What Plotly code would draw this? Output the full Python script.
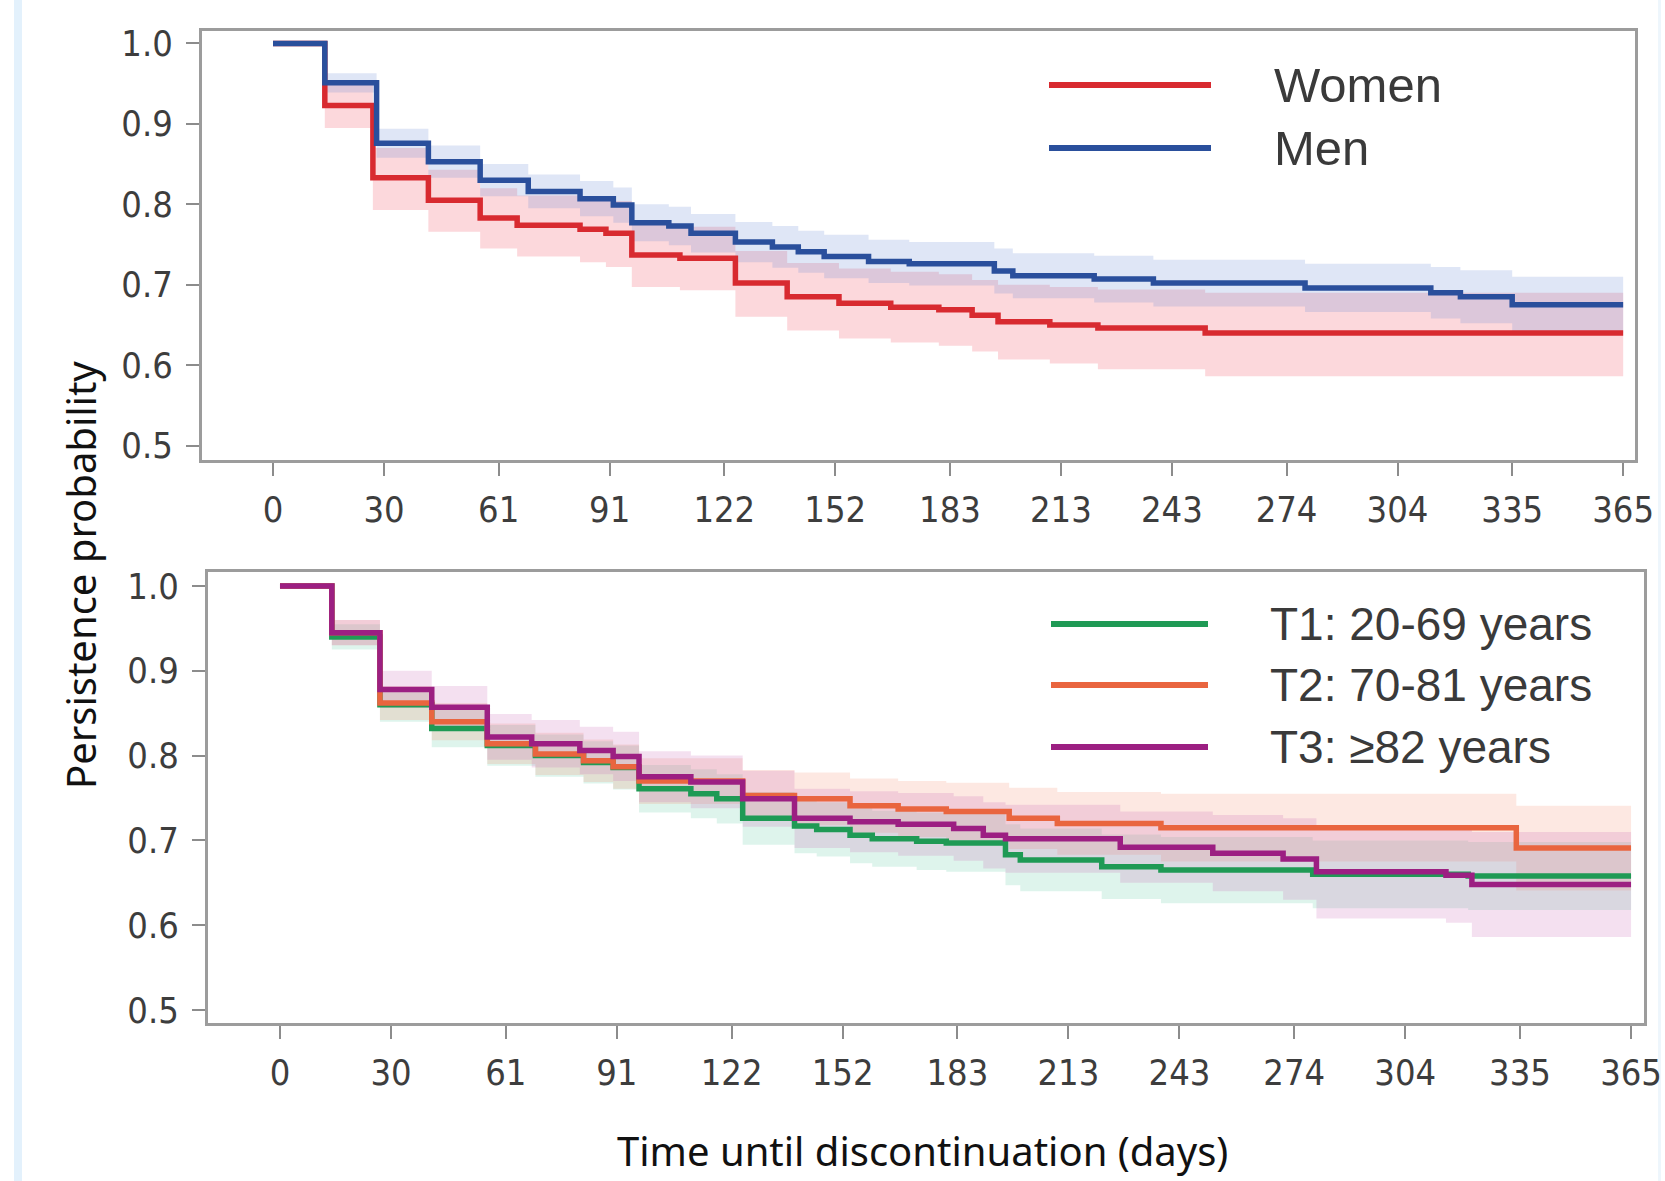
import plotly.graph_objects as go

W, H = 1665, 1181

# ---------------- data ----------------
x_ticks = [0, 30, 61, 91, 122, 152, 183, 213, 243, 274, 304, 335, 365]
y_ticks = [0.5, 0.6, 0.7, 0.8, 0.9, 1.0]
y_ticktext = ["0.5", "0.6", "0.7", "0.8", "0.9", "1.0"]

# Top panel: sex
women_t = [0, 14, 27, 42, 56, 66, 83, 90, 97, 110, 125, 139, 153, 167, 180, 189, 196, 210, 223, 252, 365]
women_s = [1.0, 0.923, 0.833, 0.805, 0.783, 0.774, 0.769, 0.764, 0.737, 0.733, 0.702, 0.685, 0.677,
           0.672, 0.669, 0.662, 0.654, 0.650, 0.646, 0.640, 0.640]
women_lo = [1.0, 0.895, 0.793, 0.766, 0.745, 0.735, 0.728, 0.722, 0.697, 0.693, 0.660, 0.643, 0.633,
            0.628, 0.624, 0.617, 0.607, 0.602, 0.595, 0.586, 0.586]
women_hi = [1.0, 0.950, 0.870, 0.843, 0.820, 0.811, 0.808, 0.804, 0.776, 0.772, 0.742, 0.727, 0.720,
            0.716, 0.713, 0.706, 0.700, 0.697, 0.694, 0.690, 0.690]

men_t = [0, 14, 28, 42, 56, 69, 83, 92, 97, 107, 113, 125, 135, 142, 149, 161, 172, 195, 200, 222,
         238, 279, 313, 321, 335, 365]
men_s = [1.0, 0.951, 0.876, 0.853, 0.830, 0.816, 0.807, 0.799, 0.777, 0.773, 0.764, 0.753, 0.747,
         0.741, 0.735, 0.729, 0.726, 0.717, 0.711, 0.707, 0.702, 0.696, 0.690, 0.685, 0.675, 0.675]
men_lo = [1.0, 0.939, 0.858, 0.833, 0.810, 0.795, 0.785, 0.777, 0.754, 0.749, 0.740, 0.728, 0.721,
          0.715, 0.708, 0.702, 0.699, 0.689, 0.683, 0.678, 0.673, 0.666, 0.658, 0.652, 0.640, 0.640]
men_hi = [1.0, 0.963, 0.894, 0.873, 0.850, 0.837, 0.829, 0.821, 0.800, 0.797, 0.788, 0.778, 0.773,
          0.767, 0.762, 0.756, 0.753, 0.745, 0.739, 0.736, 0.731, 0.726, 0.722, 0.718, 0.710, 0.710]

# Bottom panel: age tertiles
t1_t = [0, 14, 27, 41, 56, 69, 82, 90, 97, 111, 118, 125, 139, 145, 154, 160, 172, 180, 196, 200,
        222, 238, 279, 321, 365]
t1_s = [1.0, 0.940, 0.860, 0.832, 0.812, 0.800, 0.792, 0.786, 0.761, 0.755, 0.749, 0.726, 0.717,
        0.713, 0.706, 0.702, 0.699, 0.697, 0.683, 0.677, 0.669, 0.665, 0.660, 0.658, 0.658]
t1_lo = [1.0, 0.925, 0.840, 0.810, 0.788, 0.775, 0.767, 0.760, 0.733, 0.726, 0.720, 0.695, 0.685,
         0.681, 0.673, 0.669, 0.665, 0.663, 0.647, 0.640, 0.631, 0.626, 0.620, 0.618, 0.618]
t1_hi = [1.0, 0.955, 0.880, 0.854, 0.836, 0.825, 0.817, 0.812, 0.789, 0.784, 0.778, 0.757, 0.749,
         0.745, 0.739, 0.735, 0.733, 0.731, 0.719, 0.714, 0.707, 0.704, 0.700, 0.698, 0.698]

t2_t = [0, 14, 27, 41, 56, 69, 82, 90, 97, 125, 139, 154, 167, 180, 197, 210, 238, 334, 365]
t2_s = [1.0, 0.945, 0.862, 0.840, 0.814, 0.802, 0.794, 0.787, 0.770, 0.753, 0.749, 0.741, 0.737,
        0.734, 0.726, 0.720, 0.715, 0.691, 0.691]
t2_lo = [1.0, 0.930, 0.842, 0.818, 0.790, 0.777, 0.769, 0.761, 0.743, 0.723, 0.718, 0.709, 0.704,
         0.700, 0.690, 0.683, 0.675, 0.641, 0.641]
t2_hi = [1.0, 0.960, 0.882, 0.862, 0.838, 0.827, 0.819, 0.813, 0.797, 0.783, 0.780, 0.773, 0.770,
         0.768, 0.762, 0.757, 0.755, 0.741, 0.741]

t3_t = [0, 14, 27, 41, 56, 68, 81, 90, 97, 111, 125, 139, 154, 167, 182, 190, 196, 227, 252, 271,
        280, 315, 322, 365]
t3_s = [1.0, 0.945, 0.878, 0.857, 0.822, 0.814, 0.806, 0.799, 0.775, 0.769, 0.749, 0.726, 0.722,
        0.719, 0.714, 0.706, 0.702, 0.692, 0.685, 0.678, 0.663, 0.659, 0.648, 0.648]
t3_lo = [1.0, 0.930, 0.856, 0.832, 0.795, 0.786, 0.778, 0.770, 0.745, 0.738, 0.716, 0.691, 0.686,
         0.682, 0.676, 0.667, 0.662, 0.650, 0.640, 0.630, 0.608, 0.603, 0.586, 0.586]
t3_hi = [1.0, 0.960, 0.900, 0.882, 0.849, 0.842, 0.834, 0.828, 0.805, 0.800, 0.782, 0.761, 0.758,
         0.756, 0.752, 0.745, 0.742, 0.734, 0.730, 0.726, 0.718, 0.715, 0.710, 0.710]

top_names = ["Women", "Men"]
bottom_names = ["T1: 20-69 years", "T2: 70-81 years", "T3: ≥82 years"]

# ---------------- styles ----------------
C_WOMEN, C_MEN = "#d82a30", "#2a4f9c"
C_T1, C_T2, C_T3 = "#1f9a55", "#e9653f", "#9c1f82"
F_WOMEN, F_MEN = "rgba(245,110,125,0.27)", "rgba(110,140,215,0.22)"
F_T1, F_T2, F_T3 = "rgba(90,200,160,0.20)", "rgba(245,140,110,0.20)", "rgba(200,100,180,0.20)"
LW = 5.5
TICKFONT = dict(family="Liberation Sans Narrow, Arial Narrow, DejaVu Sans Condensed, Liberation Sans",
                size=36, color="#3d3d3d")
LEGFONT = dict(family="Liberation Sans, Arial, Helvetica", size=49, color="#3a3a3a")
TITLEFONT = dict(family="Noto Sans, Open Sans, Segoe UI", size=40, color="#111111")

fig = go.Figure()


def band(t, lo, hi, color, xa, ya):
    fig.add_trace(go.Scatter(x=t, y=lo, mode="lines", line=dict(width=0, shape="hv"),
                             xaxis=xa, yaxis=ya, showlegend=False, hoverinfo="skip"))
    fig.add_trace(go.Scatter(x=t, y=hi, mode="lines", line=dict(width=0, shape="hv"),
                             fill="tonexty", fillcolor=color,
                             xaxis=xa, yaxis=ya, showlegend=False, hoverinfo="skip"))


def curve(t, s, color, name, xa, ya):
    fig.add_trace(go.Scatter(x=t, y=s, mode="lines", name=name,
                             line=dict(color=color, width=LW, shape="hv"),
                             xaxis=xa, yaxis=ya, showlegend=False))


band(women_t, women_lo, women_hi, F_WOMEN, "x", "y")
band(men_t, men_lo, men_hi, F_MEN, "x", "y")
curve(women_t, women_s, C_WOMEN, top_names[0], "x", "y")
curve(men_t, men_s, C_MEN, top_names[1], "x", "y")

band(t1_t, t1_lo, t1_hi, F_T1, "x2", "y2")
band(t2_t, t2_lo, t2_hi, F_T2, "x2", "y2")
band(t3_t, t3_lo, t3_hi, F_T3, "x2", "y2")
curve(t1_t, t1_s, C_T1, bottom_names[0], "x2", "y2")
curve(t2_t, t2_s, C_T2, bottom_names[1], "x2", "y2")
curve(t3_t, t3_s, C_T3, bottom_names[2], "x2", "y2")


def px(x):
    return x / W


def py(y):
    return 1 - y / H


common_x = dict(tickmode="array", tickvals=x_ticks, ticktext=[str(v) for v in x_ticks],
                ticks="outside", ticklen=13, tickwidth=2, tickcolor="#8c8c8c",
                showline=True, linecolor="#9c9c9c", linewidth=3, mirror=True,
                showgrid=False, zeroline=False, tickfont=TICKFONT, ticklabelstandoff=3,
                fixedrange=True, automargin=False)
common_y = dict(tickmode="array", tickvals=y_ticks, ticktext=y_ticktext,
                ticks="outside", ticklen=13, tickwidth=2, tickcolor="#8c8c8c",
                showline=True, linecolor="#9c9c9c", linewidth=3, mirror=True,
                showgrid=False, zeroline=False, tickfont=TICKFONT, ticklabelstandoff=6,
                fixedrange=True, automargin=False)

fig.update_layout(
    width=W, height=H, margin=dict(l=0, r=0, t=0, b=0, autoexpand=False),
    paper_bgcolor="white", plot_bgcolor="white", showlegend=False,
    xaxis=dict(domain=[px(202), px(1635)], range=[-19.2, 368.2], anchor="y", **common_x),
    yaxis=dict(domain=[py(460), py(31)], range=[0.482, 1.0155], anchor="x", **common_y),
    xaxis2=dict(domain=[px(208), px(1644)], range=[-19.45, 368.5], anchor="y2", **common_x),
    yaxis2=dict(domain=[py(1023), py(572)], range=[0.4847, 1.0165], anchor="x2", **common_y),
)

shapes = []
annotations = []

# light blue strips at the page edges
shapes.append(dict(type="rect", xref="paper", yref="paper", x0=px(14), x1=px(22), y0=0, y1=1,
                   fillcolor="#e3f1fc", line=dict(width=0), layer="below"))
shapes.append(dict(type="rect", xref="paper", yref="paper", x0=px(1658), x1=px(1661), y0=0, y1=1,
                   fillcolor="#eef6fc", line=dict(width=0), layer="below"))

# legends (drawn manually)
top_leg = [(top_names[0], C_WOMEN, 85), (top_names[1], C_MEN, 148)]
for name, col, yy in top_leg:
    shapes.append(dict(type="line", xref="paper", yref="paper", x0=px(1049), x1=px(1211),
                       y0=py(yy), y1=py(yy), line=dict(color=col, width=6)))
    annotations.append(dict(xref="paper", yref="paper", x=px(1272), y=py(yy), text=name,
                            showarrow=False, xanchor="left", yanchor="middle", font=LEGFONT))

bot_leg = [(bottom_names[0], C_T1, 624), (bottom_names[1], C_T2, 685), (bottom_names[2], C_T3, 747)]
for name, col, yy in bot_leg:
    shapes.append(dict(type="line", xref="paper", yref="paper", x0=px(1051), x1=px(1208),
                       y0=py(yy), y1=py(yy), line=dict(color=col, width=6)))
    annotations.append(dict(xref="paper", yref="paper", x=px(1268), y=py(yy), text=name,
                            showarrow=False, xanchor="left", yanchor="middle",
                            font=dict(LEGFONT, size=46)))

# axis titles
annotations.append(dict(xref="paper", yref="paper", x=px(80), y=py(575), text="Persistence probability",
                        textangle=-90, showarrow=False, xanchor="center", yanchor="middle",
                        font=TITLEFONT))
annotations.append(dict(xref="paper", yref="paper", x=px(922), y=py(1150),
                        text="Time until discontinuation (days)", showarrow=False,
                        xanchor="center", yanchor="middle", font=TITLEFONT))

fig.update_layout(shapes=shapes, annotations=annotations)
fig.write_html("out.html", config={"displayModeBar": False},
               post_script="document.body.style.margin='0px';document.body.style.overflow='hidden';")
